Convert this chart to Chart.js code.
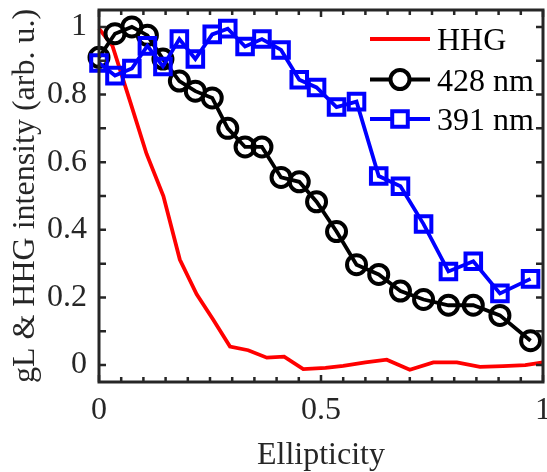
<!DOCTYPE html>
<html><head><meta charset="utf-8">
<script src="https://cdn.jsdelivr.net/npm/chart.js@4/dist/chart.umd.min.js"></script>
<style>html,body{margin:0;padding:0;background:#fff;overflow:hidden}#wrap{width:547px;height:472px;position:relative}
.pre{font-family:'Liberation Serif';position:absolute;left:-999px;top:0}</style>
</head><body><div id="wrap"><canvas id="c"></canvas></div><span class="pre">HHG 0.5 Ellipticity</span>
<script>
// ---- data ----
const ellipticity = [0, 0.036, 0.074, 0.109, 0.144, 0.181, 0.217, 0.255, 0.290, 0.329, 0.367, 0.410, 0.451, 0.490, 0.535, 0.580, 0.630, 0.679, 0.731, 0.787, 0.843, 0.903, 0.972];
const gL428 = [0.91, 0.98, 1.0, 0.975, 0.905, 0.84, 0.81, 0.79, 0.70, 0.645, 0.645, 0.555, 0.542, 0.483, 0.395, 0.297, 0.268, 0.219, 0.194, 0.177, 0.177, 0.147, 0.072];
const gL391 = [0.893, 0.856, 0.877, 0.944, 0.883, 0.964, 0.905, 0.978, 0.995, 0.942, 0.964, 0.932, 0.844, 0.821, 0.763, 0.779, 0.559, 0.529, 0.417, 0.277, 0.307, 0.212, 0.255];
const hhgEllipticity = [0, 0.03, 0.07, 0.107, 0.145, 0.182, 0.22, 0.257, 0.295, 0.336, 0.378, 0.417, 0.46, 0.51, 0.55, 0.60, 0.648, 0.70, 0.753, 0.806, 0.858, 0.91, 0.96, 1.0];
const hhg = [0.995, 0.945, 0.78, 0.625, 0.50, 0.312, 0.209, 0.135, 0.055, 0.044, 0.022, 0.025, -0.012, -0.008, -0.002, 0.008, 0.016, -0.014, 0.008, 0.008, -0.005, -0.003, 0.0, 0.008];
const seriesNames = ['HHG', '428 nm', '391 nm'];
const xTickLabels = [0, 0.5, 1];
const yTickLabels = [0, 0.2, 0.4, 0.6, 0.8, 1];
const xTitle = 'Ellipticity';
const yTitle = 'gL & HHG intensity (arb. u.)';

const FONT = "'Liberation Serif', serif";
const FS = 32;
const AX = '#262626';

const pts = (xs, ys) => xs.map((v, i) => ({x: v, y: ys[i]}));

const frameTicks = {
  id: 'frameTicks',
  afterDatasetsDraw(chart) {
    const {ctx, chartArea: a, scales: {x, y}} = chart;
    ctx.save();
    ctx.strokeStyle = AX;
    ctx.lineWidth = 2.5;
    ctx.beginPath();
    for (let i = 0; i <= 20; i++) {
      const px = x.getPixelForValue(i * 0.05);
      const len = (i % 10 === 0) ? 7 : 5;
      ctx.moveTo(px, a.bottom); ctx.lineTo(px, a.bottom - len);
      ctx.moveTo(px, a.top); ctx.lineTo(px, a.top + len);
    }
    for (let i = 0; i <= 10; i++) {
      const py = y.getPixelForValue(i * 0.1);
      ctx.moveTo(a.left, py); ctx.lineTo(a.left + 7, py);
      ctx.moveTo(a.right, py); ctx.lineTo(a.right - 7, py);
    }
    ctx.stroke();
    ctx.lineWidth = 3;
    ctx.strokeRect(a.left, a.top, a.right - a.left, a.bottom - a.top);
    ctx.restore();
  }
};

const legendPlugin = {
  id: 'customLegend',
  afterDraw(chart) {
    const {ctx} = chart;
    const rows = [39, 79.5, 119];
    const x0 = 370, x1 = 430, tx = 437;
    ctx.save();
    chart.data.datasets.forEach((ds, i) => {
      const yy = rows[i];
      ctx.strokeStyle = ds.borderColor;
      ctx.lineWidth = ds.borderWidth;
      ctx.beginPath(); ctx.moveTo(x0, yy); ctx.lineTo(x1, yy); ctx.stroke();
      if (ds.pointRadius > 0) {
        ctx.fillStyle = '#fff';
        ctx.strokeStyle = ds.pointBorderColor;
        ctx.lineWidth = ds.pointBorderWidth;
        Chart.helpers.drawPoint(ctx, {pointStyle: ds.pointStyle, radius: ds.pointRadius, rotation: 0, borderWidth: ds.pointBorderWidth}, (x0 + x1) / 2, yy);
      }
      ctx.fillStyle = '#000';
      ctx.font = FS + 'px ' + FONT;
      ctx.textBaseline = 'alphabetic';
      ctx.textAlign = 'left';
      ctx.fillText(ds.label, tx, yy + 11);
    });
    ctx.restore();
  }
};

function build() {
  Chart.defaults.font.family = FONT;
  Chart.defaults.font.size = FS;
  Chart.defaults.color = AX;
  new Chart(document.getElementById('c'), {
    type: 'line',
    data: {
      datasets: [
        {label: seriesNames[0], data: pts(hhgEllipticity, hhg), borderColor: '#ff0000', borderWidth: 3.8, pointRadius: 0, tension: 0, order: 3, clip: false},
        {label: seriesNames[1], data: pts(ellipticity, gL428), borderColor: '#000000', borderWidth: 3.8, pointStyle: 'circle', pointRadius: 9.5, pointBorderWidth: 4, pointBorderColor: '#000000', pointBackgroundColor: 'rgba(0,0,0,0)', tension: 0, order: 2, clip: false},
        {label: seriesNames[2], data: pts(ellipticity, gL391), borderColor: '#0000ff', borderWidth: 3.8, pointStyle: 'rect', pointRadius: 11, pointBorderWidth: 4, pointBorderColor: '#0000ff', pointBackgroundColor: 'rgba(0,0,0,0)', tension: 0, order: 1, clip: false}
      ]
    },
    options: {
      responsive: true,
      maintainAspectRatio: false,
      animation: false,
      devicePixelRatio: 1,
      layout: {padding: {top: 10, right: 4, left: 0, bottom: 0}, autoPadding: false},
      plugins: {legend: {display: false}, tooltip: {enabled: false}},
      scales: {
        x: {
          type: 'linear', min: 0, max: 1,
          grid: {display: false, drawTicks: false},
          border: {display: false},
          afterBuildTicks: s => { s.ticks = xTickLabels.map(v => ({value: v})); },
          ticks: {padding: 9, maxRotation: 0, autoSkip: false, callback: v => String(v), color: AX},
          title: {display: true, text: xTitle, font: {size: FS}, color: AX, padding: {top: 0, bottom: -3}},
          afterFit: s => { s.height = 90; s.paddingLeft = 0; s.paddingRight = 0; }
        },
        y: {
          type: 'linear', min: -0.05, max: 1.05,
          grid: {display: false, drawTicks: false},
          border: {display: false},
          afterBuildTicks: s => { s.ticks = yTickLabels.map(v => ({value: v})); },
          ticks: {padding: 12, autoSkip: false, callback: v => String(v), color: AX},
          title: {display: true, text: yTitle, font: {size: FS}, color: AX, padding: {top: 6, bottom: 0}},
          afterFit: s => { s.width = 99; s.paddingTop = 0; s.paddingBottom = 0; }
        }
      }
    },
    plugins: [frameTicks, legendPlugin]
  });
}

if (document.fonts && document.fonts.load) {
  Promise.all([document.fonts.load(FS + "px 'Liberation Serif'")]).then(build, build);
} else { build(); }
</script>
</body></html>
